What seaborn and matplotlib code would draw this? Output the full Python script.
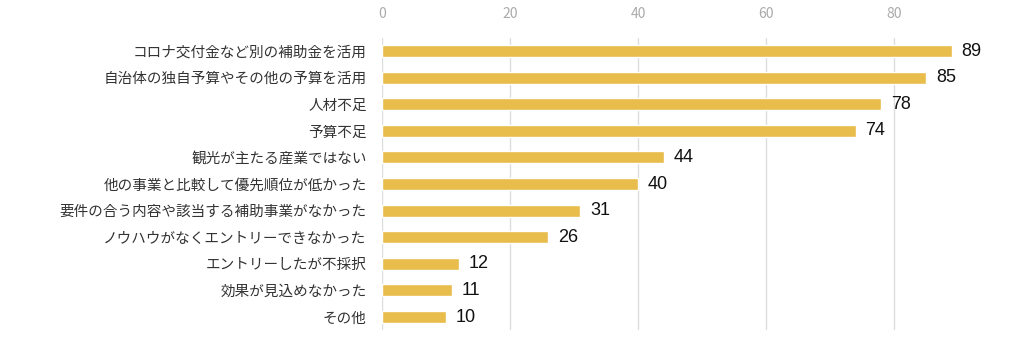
import matplotlib
matplotlib.use("Agg")
import matplotlib.pyplot as plt
import seaborn as sns
import pandas as pd

categories = [
    "コロナ交付金など別の補助金を活用",
    "自治体の独自予算やその他の予算を活用",
    "人材不足",
    "予算不足",
    "観光が主たる産業ではない",
    "他の事業と比較して優先順位が低かった",
    "要件の合う内容や該当する補助事業がなかった",
    "ノウハウがなくエントリーできなかった",
    "エントリーしたが不採択",
    "効果が見込めなかった",
    "その他",
]
values = [89, 85, 78, 74, 44, 40, 31, 26, 12, 11, 10]
xticks = [0, 20, 40, 60, 80]

sns.set_theme(style="white")
plt.rcParams['font.family'] = ['Noto Sans CJK JP', 'DejaVu Sans']

df = pd.DataFrame({"cat": categories, "val": values})

fig = plt.figure(figsize=(10.24, 3.43), dpi=100)
ax = fig.add_axes([0.373, 0.037, 0.594, 0.853])
sns.barplot(data=df, x="val", y="cat", color="#E8BD4B", width=0.45,
            saturation=1, ax=ax, orient="h")
ax.set_xlim(0, 95)
ax.set_ylim(10.5, -0.5)
ax.set_xticks(xticks)
ax.xaxis.tick_top()
ax.tick_params(axis="x", length=0, colors="#aaaaaa", labelsize=10, pad=12)
ax.tick_params(axis="y", length=0, labelsize=10.5, colors="#333333", pad=11)
ax.set_xlabel("")
ax.set_ylabel("")
for s in ax.spines.values():
    s.set_visible(False)
ax.grid(axis="x", color="#dddddd", linewidth=1)
ax.set_axisbelow(True)
for i, v in enumerate(values):
    ax.text(v + 1.5, i, str(v), va="center", ha="left", fontsize=13,
            color="#111111", family=["Liberation Sans", "DejaVu Sans"])

fig.savefig("out.png", dpi=100)
